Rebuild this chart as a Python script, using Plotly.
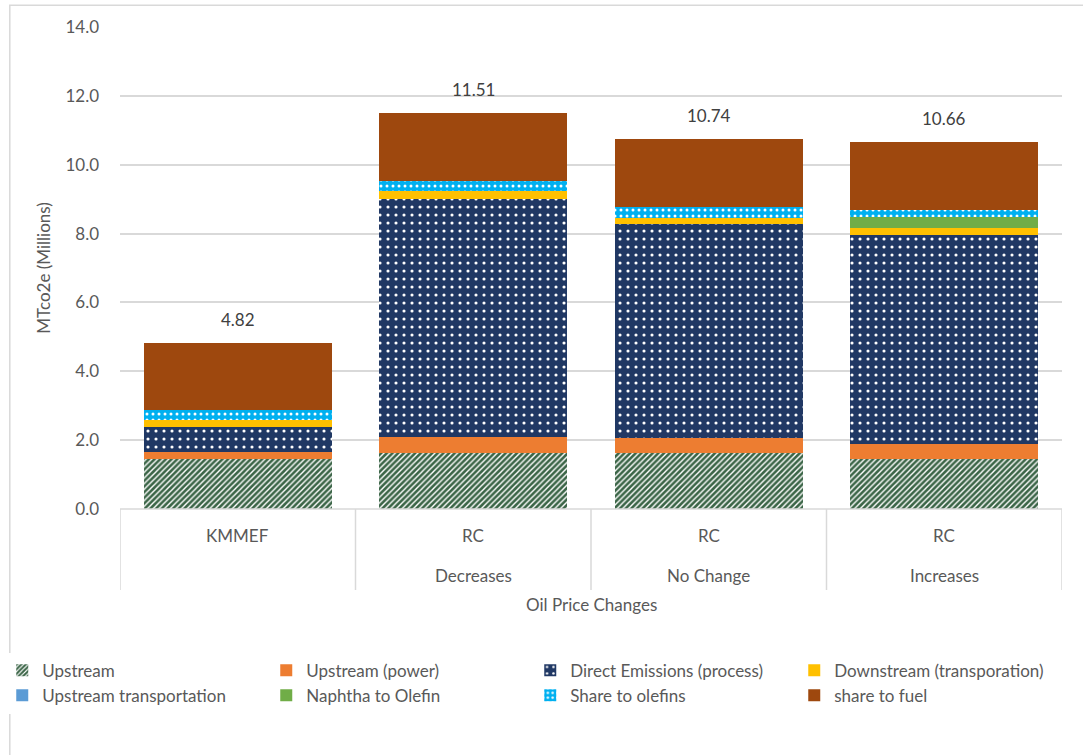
import plotly.graph_objects as go

# ---- data ----
categories = ["KMMEF", "RC|Decreases", "RC|No Change", "RC|Increases"]
inner_labels = ["KMMEF", "RC", "RC", "RC"]
outer_labels = ["", "Decreases", "No Change", "Increases"]

upstream = [1.45, 1.62, 1.62, 1.45]
upstream_power = [0.20, 0.48, 0.45, 0.45]
direct_emissions = [0.74, 6.90, 6.20, 6.06]
downstream_transp = [0.19, 0.25, 0.19, 0.21]
upstream_transp = [0.0, 0.0, 0.0, 0.0]
naphtha_olefin = [0.0, 0.0, 0.0, 0.30]
share_olefins = [0.29, 0.28, 0.30, 0.21]
share_fuel = [1.95, 1.98, 1.98, 1.98]
totals = [4.82, 11.51, 10.74, 10.66]

y_ticks = [0, 2, 4, 6, 8, 10, 12, 14]

FONT = "Lato, 'Open Sans', sans-serif"
GRAY = "#595959"

series = [
    ("Upstream", upstream, "#3b6547", dict(shape="/", fgcolor="#ffffff", bgcolor="#3b6547", size=4, solidity=0.35, fillmode="replace")),
    ("Upstream (power)", upstream_power, "#ed7d31", None),
    ("Direct Emissions (process)", direct_emissions, "#203864", dict(shape=".", fgcolor="#ffffff", bgcolor="#203864", size=8, solidity=0.12, fillmode="replace")),
    ("Downstream (transporation)", downstream_transp, "#ffc000", None),
    ("Upstream transportation", upstream_transp, "#5b9bd5", None),
    ("Naphtha to Olefin", naphtha_olefin, "#70ad47", None),
    ("Share to olefins", share_olefins, "#00b0f0", dict(shape=".", fgcolor="#ffffff", bgcolor="#00b0f0", size=6, solidity=0.2, fillmode="replace")),
    ("share to fuel", share_fuel, "#9e480e", None),
]

fig = go.Figure()
for name, vals, color, pat in series:
    marker = dict(color=color, line=dict(width=0))
    if pat:
        marker["pattern"] = pat
    fig.add_trace(go.Bar(name=name, x=categories, y=vals, marker=marker))

annotations = []
for c, t in zip(categories, totals):
    annotations.append(dict(x=c, y=t, xref="x", yref="y", text=f"{t:.2f}", showarrow=False,
                            yanchor="bottom", yshift=11, font=dict(size=17, color="#404040", family=FONT)))
for c, a, b in zip(categories, inner_labels, outer_labels):
    annotations.append(dict(x=c, y=-0.056, xref="x", yref="paper", text=a, showarrow=False,
                            yanchor="middle", font=dict(size=17, color=GRAY, family=FONT)))
    if b:
        annotations.append(dict(x=c, y=-0.139, xref="x", yref="paper", text=b, showarrow=False,
                                yanchor="middle", font=dict(size=17, color=GRAY, family=FONT)))
annotations.append(dict(x=0.5, y=-0.199, xref="paper", yref="paper", text="Oil Price Changes",
                        showarrow=False, yanchor="middle", font=dict(size=17, color=GRAY, family=FONT)))

shapes = [dict(type="line", xref="paper", yref="paper", x0=0, x1=1, y0=0, y1=0,
               line=dict(color="#d9d9d9", width=1.5))]
for xv in [-0.5, 0.5, 1.5, 2.5, 3.5]:
    shapes.append(dict(type="line", xref="x", yref="paper", x0=xv, x1=xv, y0=0, y1=-0.168,
                       line=dict(color="#d9d9d9", width=1.5)))
# chart outer border
shapes.append(dict(type="rect", xref="paper", yref="paper", x0=-0.117, x1=1.05, y0=-0.52, y1=1.045,
                   line=dict(color="#d9d9d9", width=1.5), fillcolor="rgba(0,0,0,0)", layer="below"))

fig.update_layout(
    barmode="stack",
    bargap=0.2,
    width=1083, height=755,
    margin=dict(l=120, r=21, t=27, b=246, autoexpand=False),
    paper_bgcolor="white", plot_bgcolor="white",
    font=dict(family=FONT, size=17, color=GRAY),
    xaxis=dict(showticklabels=False, ticks="", showgrid=False, zeroline=False, showline=False,
               range=[-0.5, 3.5]),
    yaxis=dict(range=[0, 14], tickvals=y_ticks, tickformat=".1f", showgrid=True,
               gridcolor="#d9d9d9", gridwidth=1.5, zeroline=False, showline=False,
               ticks="", ticklabelstandoff=20,
               tickfont=dict(size=17, color=GRAY, family=FONT),
               title=dict(text="MTco2e (Millions)", font=dict(size=17, color=GRAY, family=FONT), standoff=10)),
    legend=dict(orientation="h", x=-0.125, xanchor="left", y=-0.298, yanchor="top",
                entrywidth=219, entrywidthmode="pixels", traceorder="normal",
                font=dict(size=17, color=GRAY, family=FONT), itemclick=False),
    annotations=annotations,
    shapes=shapes,
)

fig.write_html("out.html")
